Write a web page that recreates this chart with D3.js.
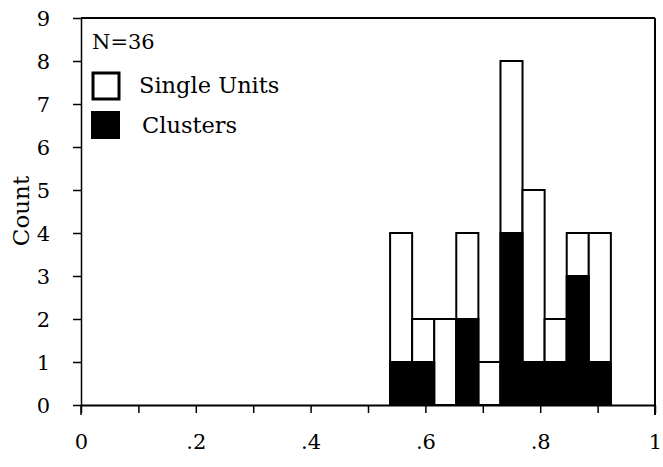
<!DOCTYPE html>
<html>
<head>
<meta charset="utf-8">
<script src="https://cdn.jsdelivr.net/npm/d3@7/dist/d3.min.js"></script>
<style>
  body { margin: 0; background: #fff; }
  svg text { font-family: "DejaVu Serif", "Liberation Serif", serif; fill: #000; }
</style>
</head>
<body>
<div id="chart"></div>
<script>
// bin edges (width 1/26)
const binLo = [0.5385, 0.5769, 0.6154, 0.6538, 0.6923, 0.7308, 0.7692, 0.8077, 0.8462, 0.8846];
const binHi = [0.5769, 0.6154, 0.6538, 0.6923, 0.7308, 0.7692, 0.8077, 0.8462, 0.8846, 0.9231];
const clusters    = [1, 1, 0, 2, 0, 4, 1, 1, 3, 1];
const singleUnits = [3, 1, 2, 2, 1, 4, 4, 1, 1, 3];
const xTicks = [0, 0.1, 0.2, 0.3, 0.4, 0.5, 0.6, 0.7, 0.8, 0.9, 1];
const xLabels = ["0", "", ".2", "", ".4", "", ".6", "", ".8", "", "1"];
const yTicks = [0, 1, 2, 3, 4, 5, 6, 7, 8, 9];

const width = 663, height = 467;
const fontSize = 21;
const x = d3.scaleLinear().domain([0, 1]).range([81, 655]);
const y = d3.scaleLinear().domain([0, 9]).range([405, 18]);

const svg = d3.select("#chart").append("svg")
    .attr("width", width)
    .attr("height", height);

// stacked bins: clusters at the bottom, single units on top
const rows = binLo.map((lo, i) => ({lo: lo, hi: binHi[i], clusters: clusters[i], single: singleUnits[i]}));
const series = d3.stack().keys(["clusters", "single"])(rows);

// outline of whole bar first, then fill clusters black
svg.append("g").selectAll("rect")
  .data(rows)
  .join("rect")
    .attr("x", d => x(d.lo))
    .attr("y", d => y(d.clusters + d.single))
    .attr("width", d => x(d.hi) - x(d.lo))
    .attr("height", d => y(0) - y(d.clusters + d.single))
    .attr("fill", "#fff")
    .attr("stroke", "#000")
    .attr("stroke-width", 2);

svg.append("g").selectAll("rect")
  .data(series[0].filter(d => d[1] > d[0]))
  .join("rect")
    .attr("x", d => x(d.data.lo) - 1)
    .attr("y", d => y(d[1]) - 1)
    .attr("width", d => x(d.data.hi) - x(d.data.lo) + 2)
    .attr("height", d => y(d[0]) - y(d[1]) + 1)
    .attr("fill", "#000");

// axes
const xAxis = svg.append("g")
    .attr("transform", `translate(0,${y(0)})`)
    .call(d3.axisBottom(x).tickValues(xTicks).tickSize(8).tickSizeOuter(0)
      .tickFormat((d, i) => xLabels[i]));
xAxis.attr("font-size", null).attr("font-family", null);
xAxis.select(".domain").attr("stroke-width", 2);
xAxis.selectAll(".tick line").attr("stroke-width", 1.5);
xAxis.selectAll("text").style("font-size", fontSize + "px").attr("y", 29).attr("dy", "0.71em");

const yAxis = svg.append("g")
    .attr("transform", `translate(${x(0)},0)`)
    .call(d3.axisLeft(y).tickValues(yTicks).tickSize(8).tickSizeOuter(0)
      .tickFormat(d3.format("d")));
yAxis.attr("font-size", null).attr("font-family", null);
yAxis.select(".domain").attr("stroke-width", 1.5);
yAxis.selectAll(".tick line").attr("stroke-width", 1.5);
yAxis.selectAll("text").style("font-size", fontSize + "px").attr("x", -31).attr("dy", "0.36em");

// frame: top and right edges
svg.append("line")
    .attr("x1", x(0)).attr("x2", x(1))
    .attr("y1", y(9)).attr("y2", y(9))
    .attr("stroke", "#000").attr("stroke-width", 2);
svg.append("line")
    .attr("x1", x(1)).attr("x2", x(1))
    .attr("y1", y(9)).attr("y2", y(0) + 10)
    .attr("stroke", "#000").attr("stroke-width", 2);
svg.append("line")
    .attr("x1", x(0)).attr("x2", x(0))
    .attr("y1", y(0)).attr("y2", y(0) + 10)
    .attr("stroke", "#000").attr("stroke-width", 1.5);

// axis title
svg.append("text")
    .attr("transform", "translate(29,211) rotate(-90)")
    .attr("text-anchor", "middle")
    .style("font-size", "23px")
    .text("Count");

// legend
const legendSize = 22.5;
svg.append("text").attr("x", 92).attr("y", 49).style("font-size", fontSize + "px").text("N=36");
svg.append("rect").attr("x", 93).attr("y", 73).attr("width", 26).attr("height", 26)
    .attr("fill", "#fff").attr("stroke", "#000").attr("stroke-width", 3);
svg.append("text").attr("x", 139).attr("y", 93).style("font-size", legendSize + "px").text("Single Units");
svg.append("rect").attr("x", 91).attr("y", 111).attr("width", 29).attr("height", 28)
    .attr("fill", "#000");
svg.append("text").attr("x", 142).attr("y", 133).style("font-size", legendSize + "px").text("Clusters");
</script>
</body>
</html>
